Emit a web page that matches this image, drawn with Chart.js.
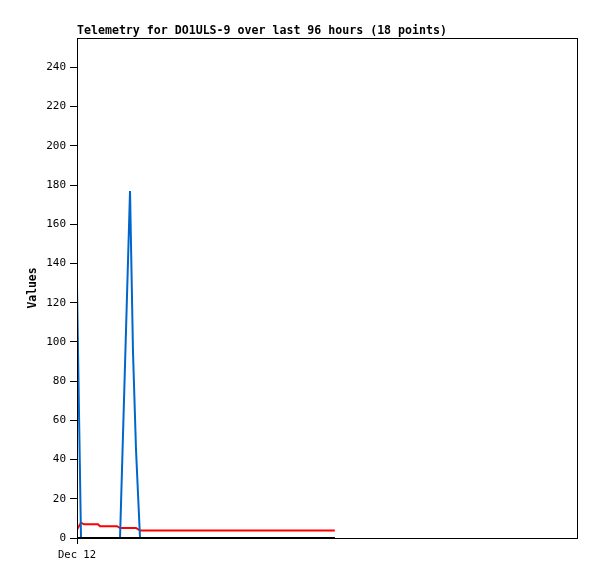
<!DOCTYPE html>
<html lang="en">
<head>
<meta charset="UTF-8">
<title>Telemetry for DO1ULS-9</title>
<script src="https://cdn.jsdelivr.net/npm/chart.js"></script>
<style>
body { margin: 0; background: #ffffff; }
#wrap { width: 597px; height: 579px; }
</style>
</head>
<body>
<div id="wrap"><canvas id="telemetryChart" width="597" height="579"></canvas></div>
<script>
// hours since the start of the window (Dec 12)
const hours = [0, 0.77, 1.34, 4.03, 4.42, 7.68, 8.26, 10.18, 10.75, 11.33, 12.1, 19.8, 25.5, 31.3, 37.1, 42.8, 46.7, 49.5];
const blueValues = [128, 0, 0, 0, 0, 0, 0, 177, 95, 45, 0, 0, 0, 0, 0, 0, 0, 0];
const redValues = [4.4, 7.8, 7.0, 7.0, 6.0, 6.0, 5.1, 5.1, 5.1, 5.1, 3.8, 3.8, 3.8, 3.8, 3.8, 3.8, 3.8, 3.8];
const blackValues = [0, 0, 0, 0, 0, 0, 0, 0, 0, 0, 0, 0, 0, 0, 0, 0, 0, 0];
const xTickLabels = ['Dec 12'];
const chartTitle = 'Telemetry for DO1ULS-9 over last 96 hours (18 points)';

const mono = "'DejaVu Sans Mono', monospace";

function toPoints(vals) {
  return vals.map((v, i) => ({ x: hours[i], y: v }));
}

// frame round the plot area and the title, aligned to the plot's left edge
const framePlugin = {
  id: 'frame',
  afterDatasetsDraw(chart) {
    const a = chart.chartArea;
    const ctx = chart.ctx;
    ctx.save();
    ctx.strokeStyle = '#000';
    ctx.lineWidth = 1;
    ctx.strokeRect(a.left + 0.5, a.top + 0.5, a.right - a.left, a.bottom - a.top);
    ctx.fillStyle = '#000';
    ctx.font = 'bold 11.6px ' + mono;
    ctx.textBaseline = 'middle';
    ctx.textAlign = 'left';
    ctx.fillText(chartTitle, a.left, 31);
    ctx.restore();
  }
};

new Chart(document.getElementById('telemetryChart'), {
  type: 'line',
  data: {
    datasets: [
      { label: 'zero', data: toPoints(blackValues), borderColor: '#000000', borderWidth: 2, order: 0 },
      { label: 'blue', data: toPoints(blueValues), borderColor: '#0066cc', borderWidth: 2, order: 1 },
      { label: 'red', data: toPoints(redValues), borderColor: '#ff0000', borderWidth: 2, order: 2 }
    ]
  },
  options: {
    responsive: false,
    animation: false,
    layout: { padding: { left: 0, top: 38, right: 20, bottom: 0 } },
    elements: { point: { radius: 0 }, line: { tension: 0 } },
    plugins: { legend: { display: false }, tooltip: { enabled: false }, title: { display: false } },
    scales: {
      x: {
        type: 'linear',
        min: 0,
        max: 96,
        afterBuildTicks: axis => { axis.ticks = xTickLabels.map((t, i) => ({ value: i * 24 })); },
        afterFit: axis => { axis.height = 41; },
        ticks: {
          autoSkip: false,
          maxRotation: 0,
          padding: 5,
          color: '#000',
          font: { family: mono, size: 10.5 },
          callback: (v, i) => xTickLabels[i]
        },
        grid: { drawOnChartArea: false, color: '#000', tickLength: 6 },
        border: { display: true, color: '#000' }
      },
      y: {
        min: 0,
        max: 255,
        afterBuildTicks: axis => {
          const t = [];
          for (let v = 0; v <= 240; v += 20) t.push({ value: v });
          axis.ticks = t;
        },
        afterFit: axis => { axis.width = 77; },
        ticks: {
          padding: 4,
          color: '#000',
          font: { family: mono, size: 11 }
        },
        grid: { drawOnChartArea: false, color: '#000', tickLength: 7 },
        border: { display: true, color: '#000' },
        title: {
          display: true,
          text: 'Values',
          color: '#000',
          font: { family: mono, size: 11.4, weight: 'bold' },
          padding: { top: 26, bottom: 0 }
        }
      }
    }
  },
  plugins: [framePlugin]
});
</script>
</body>
</html>
